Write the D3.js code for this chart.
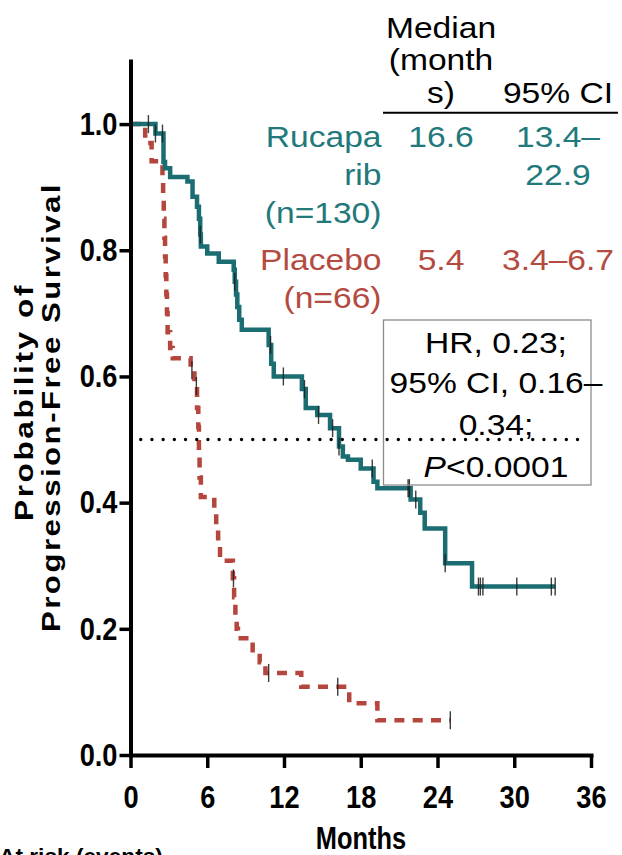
<!DOCTYPE html>
<html>
<head>
<meta charset="utf-8">
<script src="https://cdn.jsdelivr.net/npm/d3@7"></script>
<style>
  html, body { margin: 0; padding: 0; background: #ffffff; }
  svg { display: block; }
  text { font-family: "Liberation Sans", Arial, Helvetica, sans-serif; }
</style>
</head>
<body>
<script>
// Kaplan–Meier progression-free survival, rucaparib vs placebo

// Axis ticks
const monthTicks = [0, 6, 12, 18, 24, 30, 36];
const probTicks = [0, 0.2, 0.4, 0.6, 0.8, 1.0];

// Rucaparib arm: event times (months) and survival after each step
const rucaparibTimes = [0, 1.95, 2.58, 2.7, 3.1, 4.45, 4.85, 5.2, 5.35, 5.45, 5.5, 6.0, 6.9,
  8.07, 8.15, 8.25, 8.35, 8.5, 8.7, 10.8, 11.0, 11.2, 13.4, 13.7, 14.6, 15.6, 16.3, 16.6,
  17.0, 18.0, 19.0, 19.3, 21.9, 22.65, 23.0, 24.6, 26.7];
const rucaparibSurv = [1.0, 0.985, 0.94, 0.93, 0.916, 0.909, 0.885, 0.869, 0.85, 0.825, 0.806, 0.795, 0.782,
  0.769, 0.75, 0.73, 0.71, 0.69, 0.674, 0.65, 0.62, 0.6, 0.58, 0.55, 0.539, 0.518, 0.489, 0.473,
  0.468, 0.454, 0.433, 0.423, 0.405, 0.384, 0.359, 0.304, 0.267];
const rucaparibEnd = 33.2;
const rucaparibCensored = [1.4, 1.95, 2.5, 5.45, 8.15, 10.95, 11.95, 13.6, 14.7, 15.8, 16.3,
  18.9, 21.7, 21.8, 22.3, 24.6, 27.2, 27.35, 27.55, 30.2, 32.9, 33.2];

// Placebo arm
const placeboTimes = [0, 1.15, 1.65, 2.5, 2.55, 2.6, 2.65, 2.7, 2.75, 2.8, 2.85, 2.9, 3.1, 3.3,
  4.7, 5.0, 5.2, 5.3, 5.35, 5.4, 5.5, 6.55, 6.7, 6.85, 7.0, 8.0, 8.1, 8.2, 8.3, 8.4,
  9.55, 10.1, 10.55, 13.35, 17.1, 19.3];
const placeboSurv = [1.0, 0.97, 0.941, 0.91, 0.88, 0.85, 0.82, 0.79, 0.76, 0.73, 0.70, 0.67, 0.645, 0.629,
  0.61, 0.585, 0.55, 0.52, 0.48, 0.44, 0.409, 0.385, 0.36, 0.335, 0.308, 0.28, 0.25, 0.22, 0.2, 0.185,
  0.161, 0.147, 0.13, 0.108, 0.082, 0.055];
const placeboEnd = 25.0;
const placeboCensored = [4.8, 5.15, 8.05, 10.8, 16.2, 25.0];

const medianLevel = 0.5;
const medianLineSpan = [0.8, 35.4];

// Summary table
const headerMedian = ["Median", "(month", "s)"];
const headerCI = "95% CI";
const rucaparibLabel = ["Rucapa", "rib", "(n=130)"];
const rucaparibMedian = "16.6";
const rucaparibCI = ["13.4–", "22.9"];
const placeboLabel = ["Placebo", "(n=66)"];
const placeboMedian = "5.4";
const placeboCI = ["3.4–6.7"];
const hrLines = ["HR, 0.23;", "95% CI, 0.16–", "0.34;"];
const pValue = "<0.0001";

const TEAL = "#1b6d71";
const TEAL_TEXT = "#21797b";
const RED = "#b5463d";
const RED_TEXT = "#b54a40";

const W = 622, H = 855;
const svg = d3.select("body").append("svg").attr("width", W).attr("height", H);

const x = d3.scaleLinear().domain([0, 36]).range([130.5, 591]);
const y = d3.scaleLinear().domain([0, 1.1]).range([755, 61]);

function stepPoints(times, surv, end) {
  const pts = times.map((t, i) => [t, surv[i]]);
  pts.push([end, surv[surv.length - 1]]);
  return pts;
}
function levelAt(times, surv, t) {
  let v = surv[0];
  for (let i = 0; i < times.length; i++) if (times[i] <= t) v = surv[i];
  return v;
}

const stepLine = d3.line().x(d => x(d[0])).y(d => y(d[1])).curve(d3.curveStepAfter);

// Placebo curve (dashed)
svg.append("path")
  .datum(stepPoints(placeboTimes, placeboSurv, placeboEnd))
  .attr("d", stepLine)
  .attr("fill", "none")
  .attr("stroke", RED)
  .attr("stroke-width", 4.5)
  .attr("stroke-dasharray", "10 8.3");

// Rucaparib curve
svg.append("path")
  .datum(stepPoints(rucaparibTimes, rucaparibSurv, rucaparibEnd))
  .attr("d", stepLine)
  .attr("fill", "none")
  .attr("stroke", TEAL)
  .attr("stroke-width", 4.5);

// Censor marks
function censorMarks(times, surv, cens) {
  svg.append("g").selectAll("line").data(cens).join("line")
    .attr("x1", d => x(d)).attr("x2", d => x(d))
    .attr("y1", d => y(levelAt(times, surv, d)) - 9)
    .attr("y2", d => y(levelAt(times, surv, d)) + 9)
    .attr("stroke", "#1c1c1c")
    .attr("stroke-width", 1.4)
    .attr("opacity", 0.85);
}
censorMarks(placeboTimes, placeboSurv, placeboCensored);
censorMarks(rucaparibTimes, rucaparibSurv, rucaparibCensored);

// Median reference line
svg.append("line")
  .attr("x1", x(medianLineSpan[0])).attr("x2", x(medianLineSpan[1]))
  .attr("y1", y(medianLevel)).attr("y2", y(medianLevel))
  .attr("stroke", "#000")
  .attr("stroke-width", 3.4)
  .attr("stroke-linecap", "round")
  .attr("stroke-dasharray", "0 11.2");

// Horizontally widened text helper
const SX = 1.12;
function wideText(str, tx, ty, anchor, color) {
  const g = svg.append("g").attr("transform", `translate(${tx},${ty}) scale(${SX},1)`);
  return g.append("text")
    .attr("text-anchor", anchor)
    .attr("font-size", 30)
    .attr("fill", color)
    .text(str);
}

// Summary table header
const colLabel = 381.5, colMedian = 441, colCI = 558;
const headerBase = [37.5, 70, 102.5];
headerMedian.forEach((s, i) => wideText(s, colMedian, headerBase[i], "middle", "#000"));
wideText(headerCI, colCI, headerBase[2], "middle", "#000");
svg.append("line")
  .attr("x1", 383).attr("x2", 618)
  .attr("y1", 112.7).attr("y2", 112.7)
  .attr("stroke", "#000").attr("stroke-width", 2);

// Summary table rows
const rowStep = 38.3;
const rucBase = 146.7;
rucaparibLabel.forEach((s, i) => wideText(s, colLabel, rucBase + i * rowStep, "end", TEAL_TEXT));
wideText(rucaparibMedian, colMedian, rucBase, "middle", TEAL_TEXT);
rucaparibCI.forEach((s, i) => wideText(s, colCI, rucBase + i * rowStep, "middle", TEAL_TEXT));

const plaBase = 270;
placeboLabel.forEach((s, i) => wideText(s, colLabel, plaBase + i * rowStep, "end", RED_TEXT));
wideText(placeboMedian, colMedian, plaBase, "middle", RED_TEXT);
placeboCI.forEach((s, i) => wideText(s, colCI, plaBase + i * rowStep, "middle", RED_TEXT));

// Hazard ratio box
svg.append("rect")
  .attr("x", 383.5).attr("y", 320)
  .attr("width", 207.5).attr("height", 165)
  .attr("fill", "none")
  .attr("stroke", "#8c8c8c")
  .attr("stroke-width", 1.3);
const hrBase = [353.3, 393.3, 435];
hrLines.forEach((s, i) => wideText(s, 496, hrBase[i], "middle", "#000"));
const pText = wideText("", 496, 476.7, "middle", "#000");
pText.append("tspan").attr("font-style", "italic").text("P");
pText.append("tspan").text(pValue);

// Axes
const xAxis = d3.axisBottom(x)
  .tickValues(monthTicks)
  .tickSizeInner(13).tickSizeOuter(0).tickPadding(17)
  .tickFormat(d3.format("d"));
const yAxis = d3.axisLeft(y)
  .tickValues(probTicks)
  .tickSizeInner(11).tickSizeOuter(0).tickPadding(2)
  .tickFormat(d3.format(".1f"));

const TICK_SX = 0.85;
const gx = svg.append("g").attr("transform", "translate(0,755)").call(xAxis);
const gy = svg.append("g").attr("transform", "translate(130.5,0)").call(yAxis);
[gx, gy].forEach(g => {
  g.select(".domain").attr("stroke", "#000").attr("stroke-width", 4).attr("stroke-linecap", "square");
  g.selectAll(".tick line").attr("stroke", "#000").attr("stroke-width", 3.5);
  g.selectAll(".tick text")
    .attr("fill", "#000")
    .attr("font-size", 32)
    .attr("font-weight", "bold")
    .attr("font-family", "'Liberation Sans', Arial, sans-serif")
    .attr("transform", `scale(${TICK_SX},1)`);
});
gy.selectAll(".tick text").attr("x", -13 / TICK_SX);

// Axis titles
svg.append("g").attr("transform", `translate(361,848.5) scale(0.82,1)`)
  .append("text")
  .attr("text-anchor", "middle")
  .attr("font-size", 31)
  .attr("font-weight", "bold")
  .text("Months");

const yTitle = [
  { text: "Probability of", base: 32.5, center: 402, len: 238 },
  { text: "Progression-Free Survival", base: 60, center: 407, len: 450 }
];
yTitle.forEach(t => {
  svg.append("text")
    .attr("transform", `translate(${t.base},${t.center}) rotate(-90)`)
    .attr("text-anchor", "middle")
    .attr("font-size", 25)
    .attr("font-weight", "bold")
    .attr("letter-spacing", 2)
    .attr("textLength", t.len)
    .attr("lengthAdjust", "spacingAndGlyphs")
    .text(t.text);
});

// Risk table heading
svg.append("text")
  .attr("x", -1).attr("y", 864)
  .attr("font-size", 22.7)
  .attr("font-weight", "bold")
  .text("At risk (events)");
</script>
</body>
</html>
